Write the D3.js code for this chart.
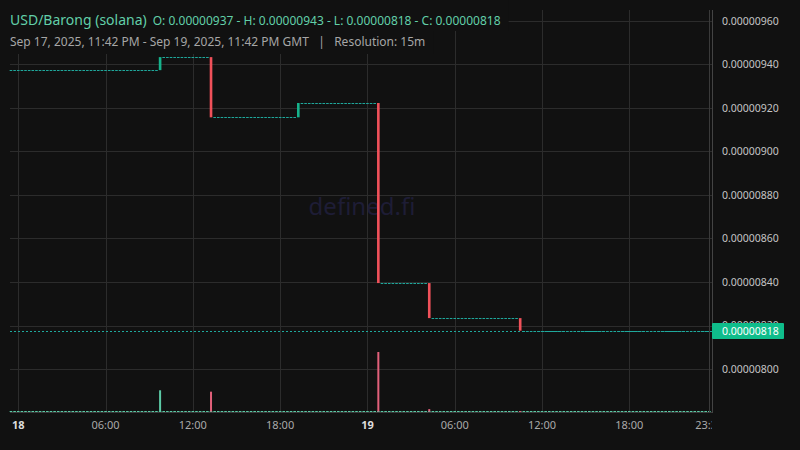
<!DOCTYPE html>
<html lang="en">
<head>
  <meta charset="UTF-8">
  <title>USD/Barong (solana)</title>
  <script src="https://d3js.org/d3.v7.min.js"></script>
  <style>
    html, body { margin: 0; padding: 0; background: #111111; }
    svg { display: block; font-family: "Noto Sans", "Open Sans", sans-serif; }
  </style>
</head>
<body>
<svg id="chart" width="800" height="450"></svg>

<script>
  // 15m bars that actually moved; everything in between is flat
  const barTimes = ["2025-09-18T09:45Z", "2025-09-18T13:15Z", "2025-09-18T19:15Z",
                    "2025-09-19T00:45Z", "2025-09-19T04:15Z", "2025-09-19T10:30Z"];
  const opens   = [0.000009374, 0.000009434, 0.000009157, 0.000009223, 0.000008395, 0.000008234];
  const closes  = [0.000009434, 0.000009157, 0.000009223, 0.000008395, 0.000008234, 0.000008176];
  const volumes = [1070, 1000, 0, 3000, 120, 25];
  const firstBar = "2025-09-17T23:30Z";
  const lastBar  = "2025-09-19T23:30Z";

  const priceTicks = [0.0000080, 0.0000082, 0.0000084, 0.0000086, 0.0000088, 0.0000090, 0.0000092, 0.0000094, 0.0000096];
  const timeTicks  = ["2025-09-18T00:00Z", "2025-09-18T06:00Z", "2025-09-18T12:00Z", "2025-09-18T18:00Z",
                      "2025-09-19T00:00Z", "2025-09-19T06:00Z", "2025-09-19T12:00Z", "2025-09-19T18:00Z", "2025-09-19T23:30Z"];
  const timeLabels = ["18", "06:00", "12:00", "18:00", "19", "06:00", "12:00", "18:00", "23:30"];

  const titleText = "USD/Barong (solana)";
  const ohlcText = "O: 0.00000937 - H: 0.00000943 - L: 0.00000818 - C: 0.00000818";
  const rangeText = "Sep 17, 2025, 11:42 PM - Sep 19, 2025, 11:42 PM GMT   |   Resolution: 15m";

  const up = "#16b38c", down = "#f0515a", flat = "#1fa89c";
  const volUp = "#5ccaa6", volDown = "#e2607a";
  const grid = "#2c2c2c";

  const pLeft = 10, pRight = 712, pTop = 10, pBottom = 412;
  const svg = d3.select("#chart");

  const x = d3.scaleUtc()
    .domain([new Date(Date.UTC(2025, 8, 17, 23, 26)), new Date(Date.UTC(2025, 8, 19, 23, 41))])
    .range([pLeft, pRight]);
  const y = d3.scaleLinear().domain([0.0000080, 0.0000096]).range([369, 21]);
  const yVol = d3.scaleLinear().domain([0, d3.max(volumes)]).range([411.5, 352]);

  const slot = 15 * 60 * 1000;
  const w = x(new Date(x.domain()[0].getTime() + slot)) - pLeft;
  const bodyW = w * 0.72;
  const dash = `${bodyW} ${w - bodyW}`;

  const bars = barTimes.map((t, i) => ({
    t: new Date(t), o: opens[i], c: closes[i], v: volumes[i]
  }));

  // grid
  const g = svg.append("g");
  g.selectAll("line.h").data(priceTicks).join("line")
    .attr("x1", pLeft).attr("x2", pRight)
    .attr("y1", d => Math.round(y(d)) + 0.5).attr("y2", d => Math.round(y(d)) + 0.5)
    .attr("stroke", grid);
  g.selectAll("line.v").data(timeTicks.slice(0, -1)).join("line")
    .attr("x1", d => Math.round(x(new Date(d))) + 0.5).attr("x2", d => Math.round(x(new Date(d))) + 0.5)
    .attr("y1", pTop).attr("y2", pBottom)
    .attr("stroke", grid);

  // watermark
  svg.append("text")
    .attr("x", 362).attr("y", 215)
    .attr("text-anchor", "middle")
    .attr("font-size", 24)
    .attr("fill", "#1e1d36")
    .text("defined.fi");

  // flat stretches between the moving bars
  const segs = [];
  segs.push({ a: new Date(firstBar), b: new Date(bars[0].t - slot), p: bars[0].o });
  bars.forEach((d, i) => {
    const end = i < bars.length - 1 ? new Date(bars[i + 1].t - slot) : new Date(lastBar);
    segs.push({ a: new Date(+d.t + slot), b: end, p: d.c });
  });

  const plot = svg.append("g");
  plot.selectAll("line.flat").data(segs).join("line")
    .attr("x1", d => x(d.a) - bodyW / 2).attr("x2", d => x(d.b) + bodyW / 2)
    .attr("y1", d => Math.round(y(d.p)) + 0.5).attr("y2", d => Math.round(y(d.p)) + 0.5)
    .attr("stroke", flat).attr("stroke-dasharray", dash);

  // zero volume baseline
  plot.append("line")
    .attr("x1", x(new Date(firstBar)) - bodyW / 2).attr("x2", x(new Date(lastBar)) + bodyW / 2)
    .attr("y1", 411.5).attr("y2", 411.5)
    .attr("stroke", volUp).attr("stroke-dasharray", dash);

  // volume bars
  plot.selectAll("rect.vol").data(bars.filter(d => d.v > 0)).join("rect")
    .attr("x", d => x(d.t) - 1).attr("width", 2)
    .attr("y", d => yVol(d.v)).attr("height", d => Math.max(1, 411.5 - yVol(d.v)))
    .attr("fill", d => d.c >= d.o ? volUp : volDown);

  // candle bodies
  plot.selectAll("rect.body").data(bars).join("rect")
    .attr("x", d => x(d.t) - bodyW / 2).attr("width", bodyW)
    .attr("y", d => y(Math.max(d.o, d.c)))
    .attr("height", d => Math.abs(y(d.o) - y(d.c)))
    .attr("fill", d => d.c >= d.o ? up : down);

  // last price line
  const last = closes[closes.length - 1];
  plot.append("line")
    .attr("x1", pLeft).attr("x2", pRight)
    .attr("y1", Math.round(y(last)) + 0.5).attr("y2", Math.round(y(last)) + 0.5)
    .attr("stroke", flat).attr("stroke-dasharray", "2 2");

  // borders
  svg.append("line").attr("x1", pLeft).attr("x2", pRight).attr("y1", 412.5).attr("y2", 412.5).attr("stroke", "#3a3a3a");
  svg.append("line").attr("x1", 709.5).attr("x2", 709.5).attr("y1", pTop).attr("y2", 413).attr("stroke", "#3a3a3a");
  svg.append("line").attr("x1", 712.5).attr("x2", 712.5).attr("y1", pTop).attr("y2", 413).attr("stroke", "#444");

  // price scale
  const fmt = d3.format(".8f");
  svg.append("g").selectAll("text").data(priceTicks).join("text")
    .attr("x", 722).attr("y", d => y(d)).attr("dy", "0.35em")
    .attr("font-size", 10.5).attr("fill", "#c4c4c4")
    .text(d => fmt(d));

  const tag = svg.append("g").attr("transform", `translate(712,${Math.round(y(last)) - 8})`);
  tag.append("rect").attr("width", 72).attr("height", 16).attr("rx", 1).attr("fill", "#0fbd8b");
  tag.append("text").attr("x", 10).attr("y", 8).attr("dy", "0.35em")
    .attr("font-size", 10.5).attr("fill", "#ffffff").text(fmt(last));

  // time scale, clipped at the price scale
  svg.append("clipPath").attr("id", "tclip").append("rect")
    .attr("x", 0).attr("y", 413).attr("width", 712).attr("height", 37);
  svg.append("g").attr("clip-path", "url(#tclip)")
    .selectAll("text").data(timeTicks).join("text")
    .attr("x", d => x(new Date(d))).attr("y", 429)
    .attr("text-anchor", "middle").attr("font-size", 11)
    .attr("font-weight", (d, i) => timeLabels[i].length === 2 ? "bold" : "normal")
    .attr("fill", (d, i) => timeLabels[i].length === 2 ? "#dddddd" : "#a9a9a9")
    .text((d, i) => timeLabels[i]);

  // legend header, painted over the grid
  const head = svg.append("g");
  const bg1 = head.append("rect").attr("fill", "#111111");
  const bg2 = head.append("rect").attr("fill", "#111111");
  const t1 = head.append("text").attr("x", 10).attr("y", 25);
  t1.append("tspan").attr("font-size", 14).attr("fill", "#62cfa9").text(titleText);
  t1.append("tspan").attr("dx", 6).attr("font-size", 12).attr("fill", "#62cfa9").text(ohlcText);
  const t2 = head.append("text").attr("x", 10).attr("y", 46)
    .attr("font-size", 12).attr("fill", "#a6a6a6")
    .style("white-space", "pre").text(rangeText);
  const b1 = t1.node().getBBox(), b2 = t2.node().getBBox();
  bg1.attr("x", 0).attr("y", 0).attr("width", b1.x + b1.width + 8).attr("height", 31);
  bg2.attr("x", 0).attr("y", 31).attr("width", b2.x + b2.width + 8).attr("height", 23);
</script>
</body>
</html>
